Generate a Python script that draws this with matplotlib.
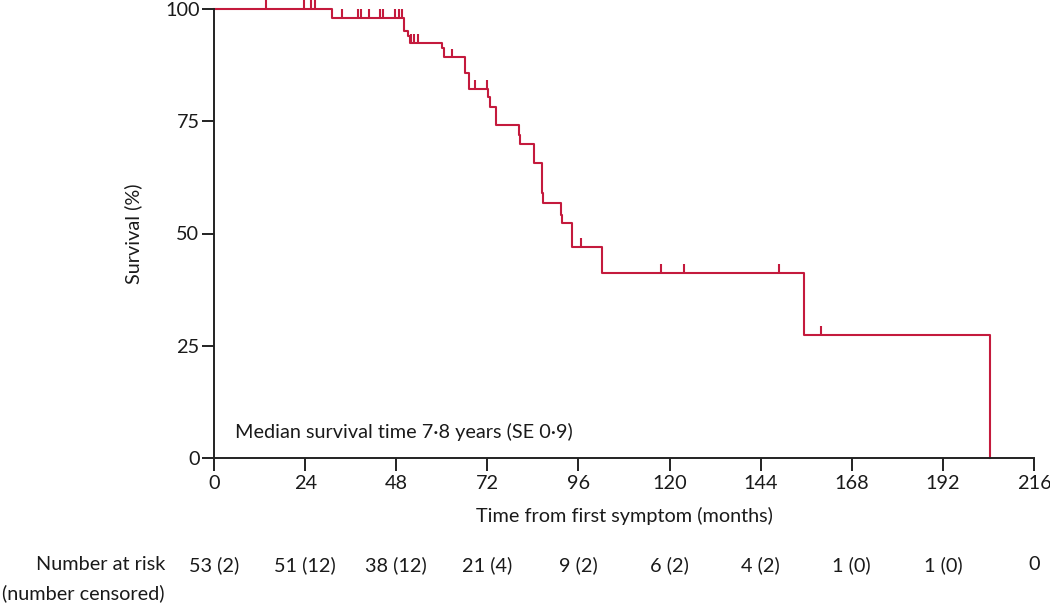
import numpy as np
import matplotlib
matplotlib.use("Agg")
import matplotlib.pyplot as plt
import matplotlib.transforms as mtransforms

plt.rcParams['font.family'] = ['Lato', 'DejaVu Sans']
plt.rcParams['font.size'] = 14.3

# Kaplan-Meier curve (months, survival %)
step_times = [0, 31.2, 50.0, 51.2, 51.5, 60.1, 60.5, 66.2, 67.2, 72.2, 72.6, 74.3,
              80.3, 80.6, 84.3, 86.4, 86.7, 91.4, 91.7, 94.3, 102.3, 155.4, 204.5]
step_surv = [100, 98.1, 95.2, 94.0, 92.4, 91.3, 89.2, 85.7, 82.1, 80.4, 78.2, 74.1,
             71.9, 70.0, 65.6, 59.0, 56.9, 54.1, 52.3, 47.1, 41.2, 27.4, 0]

# censored observations (months)
censor_times = [13.6, 23.7, 25.6, 26.6, 33.6, 37.8, 38.7, 40.8, 43.7, 44.5, 47.7,
                48.6, 49.5, 51.8, 52.7, 53.7, 62.6, 68.7, 71.8, 96.8, 117.8,
                123.8, 148.8, 159.8]

xticks = [0, 24, 48, 72, 96, 120, 144, 168, 192, 216]
yticks = [0, 25, 50, 75, 100]
risk_labels = ["53 (2)", "51 (12)", "38 (12)", "21 (4)", "9 (2)", "6 (2)",
               "4 (2)", "1 (0)", "1 (0)", "0"]

red = "#c41a3d"
txt = "#1a1a1a"

fig = plt.figure(figsize=(10.5, 6.04), dpi=100)
ax = fig.add_axes([214 / 1050, 146 / 604, 820 / 1050, 449 / 604])

ax.step(step_times, step_surv, where="post", color=red, lw=1.5, clip_on=False)

# censor marks sit on the curve level at that time
idx = np.searchsorted(step_times, censor_times, side="right") - 1
levels = np.array(step_surv)[idx]
ax.vlines(censor_times, levels, levels + 2.0, color=red, lw=1.5, clip_on=False)

ax.set_xlim(0, 216)
ax.set_ylim(0, 100)
ax.set_xticks(xticks)
ax.set_yticks(yticks)
for s in ["top", "right"]:
    ax.spines[s].set_visible(False)
for s in ["left", "bottom"]:
    ax.spines[s].set_linewidth(1.4)
    ax.spines[s].set_color("#222222")
ax.tick_params(length=9, width=1.4, color="#222222", labelcolor=txt)
ax.tick_params(axis="y", pad=1.5)
ax.tick_params(axis="x", pad=3.5)

ax.text(-0.099, 0.5, "Survival (%)", transform=ax.transAxes, rotation=90,
        ha="center", va="center", color=txt)
ax.text(0.501, -0.13, "Time from first symptom (months)", transform=ax.transAxes,
        ha="center", va="center", color=txt)
ax.text(0.0256, 0.058, "Median survival time 7\u00b78 years (SE 0\u00b79)",
        transform=ax.transAxes, ha="left", va="center", color=txt)

# number at risk table
trans = mtransforms.blended_transform_factory(ax.transData, ax.transAxes)
for x, lab in zip(xticks, risk_labels):
    ax.text(x, -0.238, lab, transform=trans, ha="center", va="center",
            color=txt, clip_on=False)
ax.text(-0.0598, -0.238, "Number at risk", transform=ax.transAxes,
        ha="right", va="center", color=txt)
ax.text(-0.0598, -0.3007, "(number censored)", transform=ax.transAxes,
        ha="right", va="center", color=txt)

fig.savefig("out.png", dpi=100)
